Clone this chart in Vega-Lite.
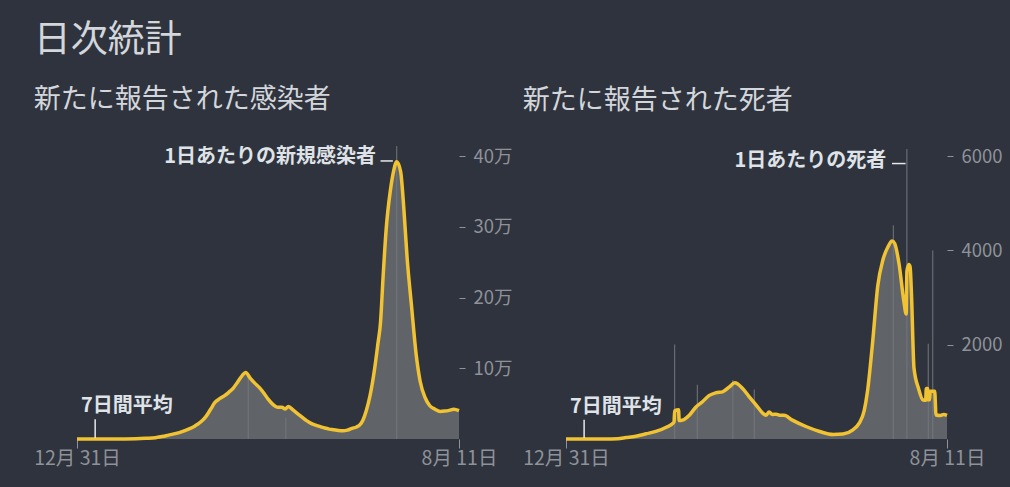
{
  "$schema": "https://vega.github.io/schema/vega-lite/v6.json",
  "background": "#2e333d",
  "padding": {"left": 33, "top": 21, "right": 8, "bottom": 20},
  "title": {
    "text": "日次統計",
    "anchor": "start",
    "frame": "bounds",
    "font": "Noto Sans CJK JP",
    "fontSize": 37,
    "fontWeight": "normal",
    "color": "#d3d6db",
    "offset": 26
  },
  "config": {
    "view": {"stroke": null},
    "font": "Noto Sans CJK JP",
    "axis": {
      "grid": false,
      "domain": false,
      "title": null,
      "labelFont": "Noto Sans CJK JP",
      "labelColor": "#8f9298",
      "tickColor": "#8f9298"
    },
    "axisX": {"tickSize": 9, "labelPadding": 1, "labelFontSize": 19.5, "labelFlush": false, "labelOverlap": false},
    "axisY": {"tickSize": 6, "labelPadding": 8, "labelFontSize": 18.5, "orient": "right"}
  },
  "datasets": {
    "cases": [
      {"date": "2019-12-31", "value": 0},
      {"date": "2020-01-31", "value": 0},
      {"date": "2020-02-29", "value": 50},
      {"date": "2020-03-15", "value": 80},
      {"date": "2020-03-31", "value": 300},
      {"date": "2020-04-15", "value": 900},
      {"date": "2020-04-30", "value": 1800},
      {"date": "2020-05-10", "value": 3500},
      {"date": "2020-05-20", "value": 5500},
      {"date": "2020-06-01", "value": 8000},
      {"date": "2020-06-10", "value": 10500},
      {"date": "2020-06-20", "value": 14000},
      {"date": "2020-06-30", "value": 18500},
      {"date": "2020-07-10", "value": 25000},
      {"date": "2020-07-17", "value": 32000},
      {"date": "2020-07-24", "value": 42000},
      {"date": "2020-07-31", "value": 52000},
      {"date": "2020-08-07", "value": 57000},
      {"date": "2020-08-14", "value": 61000},
      {"date": "2020-08-21", "value": 66000},
      {"date": "2020-08-28", "value": 72000},
      {"date": "2020-09-04", "value": 81000},
      {"date": "2020-09-11", "value": 90000},
      {"date": "2020-09-16", "value": 94000},
      {"date": "2020-09-23", "value": 86000},
      {"date": "2020-09-30", "value": 79000},
      {"date": "2020-10-07", "value": 73000},
      {"date": "2020-10-14", "value": 65000},
      {"date": "2020-10-21", "value": 56000},
      {"date": "2020-10-28", "value": 49000},
      {"date": "2020-11-04", "value": 45000},
      {"date": "2020-11-11", "value": 45000},
      {"date": "2020-11-16", "value": 42500},
      {"date": "2020-11-21", "value": 46000},
      {"date": "2020-11-28", "value": 41000},
      {"date": "2020-12-05", "value": 36000},
      {"date": "2020-12-12", "value": 31000},
      {"date": "2020-12-19", "value": 26000},
      {"date": "2020-12-26", "value": 22000},
      {"date": "2021-01-02", "value": 19500},
      {"date": "2021-01-09", "value": 17500},
      {"date": "2021-01-16", "value": 15500},
      {"date": "2021-01-23", "value": 14000},
      {"date": "2021-01-30", "value": 13000},
      {"date": "2021-02-06", "value": 12000},
      {"date": "2021-02-13", "value": 11500},
      {"date": "2021-02-20", "value": 12500},
      {"date": "2021-02-27", "value": 15000},
      {"date": "2021-03-06", "value": 17000},
      {"date": "2021-03-11", "value": 20000},
      {"date": "2021-03-16", "value": 27000},
      {"date": "2021-03-21", "value": 40000},
      {"date": "2021-03-27", "value": 62000},
      {"date": "2021-04-03", "value": 100000},
      {"date": "2021-04-08", "value": 135000},
      {"date": "2021-04-12", "value": 165000},
      {"date": "2021-04-16", "value": 230000},
      {"date": "2021-04-21", "value": 300000},
      {"date": "2021-04-27", "value": 350000},
      {"date": "2021-05-02", "value": 378000},
      {"date": "2021-05-07", "value": 392000},
      {"date": "2021-05-13", "value": 378000},
      {"date": "2021-05-18", "value": 325000},
      {"date": "2021-05-23", "value": 256000},
      {"date": "2021-05-30", "value": 186000},
      {"date": "2021-06-06", "value": 119000},
      {"date": "2021-06-12", "value": 82000},
      {"date": "2021-06-20", "value": 58000},
      {"date": "2021-06-27", "value": 47000},
      {"date": "2021-07-05", "value": 42000},
      {"date": "2021-07-13", "value": 39000},
      {"date": "2021-07-20", "value": 39500},
      {"date": "2021-07-27", "value": 40500},
      {"date": "2021-08-03", "value": 42000},
      {"date": "2021-08-11", "value": 40000}
    ],
    "caseSpikes": [
      {"date": "2021-05-07", "value": 414000},
      {"date": "2020-09-20", "value": 88000},
      {"date": "2020-11-17", "value": 30000}
    ],
    "deaths": [
      {"date": "2019-12-31", "value": 0},
      {"date": "2020-02-29", "value": 0},
      {"date": "2020-03-20", "value": 5},
      {"date": "2020-04-02", "value": 30},
      {"date": "2020-04-17", "value": 60},
      {"date": "2020-05-03", "value": 110},
      {"date": "2020-05-18", "value": 160},
      {"date": "2020-06-03", "value": 250},
      {"date": "2020-06-14", "value": 340},
      {"date": "2020-06-15", "value": 360},
      {"date": "2020-06-16", "value": 600},
      {"date": "2020-06-22", "value": 620},
      {"date": "2020-06-23", "value": 390},
      {"date": "2020-06-28", "value": 400},
      {"date": "2020-07-09", "value": 510},
      {"date": "2020-07-19", "value": 680},
      {"date": "2020-07-29", "value": 790},
      {"date": "2020-08-08", "value": 920},
      {"date": "2020-08-19", "value": 980},
      {"date": "2020-08-29", "value": 1000},
      {"date": "2020-09-08", "value": 1100},
      {"date": "2020-09-17", "value": 1190},
      {"date": "2020-09-29", "value": 1070},
      {"date": "2020-10-09", "value": 900},
      {"date": "2020-10-20", "value": 720},
      {"date": "2020-10-30", "value": 550},
      {"date": "2020-11-04", "value": 505},
      {"date": "2020-11-09", "value": 570},
      {"date": "2020-11-14", "value": 520},
      {"date": "2020-11-20", "value": 525},
      {"date": "2020-11-25", "value": 505},
      {"date": "2020-12-02", "value": 505},
      {"date": "2020-12-15", "value": 400},
      {"date": "2021-01-05", "value": 265},
      {"date": "2021-01-26", "value": 160},
      {"date": "2021-02-16", "value": 95},
      {"date": "2021-03-03", "value": 105},
      {"date": "2021-03-18", "value": 190},
      {"date": "2021-03-28", "value": 330},
      {"date": "2021-04-05", "value": 600},
      {"date": "2021-04-10", "value": 1000},
      {"date": "2021-04-18", "value": 2050},
      {"date": "2021-04-26", "value": 3250},
      {"date": "2021-05-04", "value": 3800},
      {"date": "2021-05-12", "value": 4080},
      {"date": "2021-05-18", "value": 4200},
      {"date": "2021-05-22", "value": 4150},
      {"date": "2021-05-29", "value": 3700},
      {"date": "2021-06-05", "value": 2950},
      {"date": "2021-06-09", "value": 2650},
      {"date": "2021-06-10", "value": 3550},
      {"date": "2021-06-13", "value": 3700},
      {"date": "2021-06-15", "value": 3650},
      {"date": "2021-06-17", "value": 3100},
      {"date": "2021-06-21", "value": 1500},
      {"date": "2021-06-28", "value": 1070},
      {"date": "2021-07-05", "value": 825},
      {"date": "2021-07-09", "value": 820},
      {"date": "2021-07-10", "value": 1070},
      {"date": "2021-07-12", "value": 1070},
      {"date": "2021-07-13", "value": 830},
      {"date": "2021-07-15", "value": 830},
      {"date": "2021-07-16", "value": 1010},
      {"date": "2021-07-23", "value": 1010},
      {"date": "2021-07-25", "value": 510},
      {"date": "2021-08-01", "value": 500},
      {"date": "2021-08-06", "value": 520},
      {"date": "2021-08-11", "value": 500}
    ],
    "deathSpikes": [
      {"date": "2020-06-16", "value": 2003},
      {"date": "2020-07-21", "value": 1150},
      {"date": "2020-09-14", "value": 1250},
      {"date": "2020-10-17", "value": 1050},
      {"date": "2021-05-20", "value": 4530},
      {"date": "2021-06-10", "value": 6148},
      {"date": "2021-07-13", "value": 2020},
      {"date": "2021-07-20", "value": 3998}
    ]
  },
  "spacing": 9,
  "hconcat": [
    {
      "title": {
        "text": "新たに報告された感染者",
        "anchor": "start",
        "frame": "bounds",
        "fontSize": 27,
        "fontWeight": "normal",
        "color": "#d3d6db",
        "offset": 32
      },
      "width": 382,
      "height": 283,
      "encoding": {
        "x": {
          "field": "date",
          "type": "temporal",
          "scale": {
            "type": "utc",
            "domain": [
              {"year": 2019, "month": 12, "date": 31, "utc": true},
              {"year": 2021, "month": 8, "date": 11, "utc": true}
            ]
          },
          "axis": {
            "values": [
              {"year": 2019, "month": 12, "date": 31, "utc": true},
              {"year": 2021, "month": 8, "date": 11, "utc": true}
            ],
            "labelExpr": "utcFormat(datum.value, '%-m月 %-d日')"
          }
        },
        "y": {
          "field": "value",
          "type": "quantitative",
          "scale": {"domain": [0, 400000]},
          "axis": {
            "values": [100000, 200000, 300000, 400000],
            "labelExpr": "datum.value / 10000 + '万'"
          }
        }
      },
      "layer": [
        {
          "data": {"name": "cases"},
          "mark": {"type": "area", "color": "#606469"}
        },
        {
          "data": {"name": "caseSpikes"},
          "mark": {"type": "rule", "color": "#73777e", "strokeWidth": 1},
          "encoding": {"y2": {"datum": 0}}
        },
        {
          "data": {"name": "cases"},
          "mark": {"type": "line", "color": "#f1c232", "strokeWidth": 3.5, "interpolate": "monotone", "strokeJoin": "round"}
        },
        {
          "data": {
            "values": [
              {"date": "2020-01-28", "date2": "2020-01-28", "value": 28000, "value2": 1500},
              {"date": "2021-04-12", "date2": "2021-05-01", "value": 393000, "value2": 393000}
            ]
          },
          "mark": {"type": "rule", "color": "#e6e8ec", "strokeWidth": 1.5},
          "encoding": {
            "x2": {"field": "date2"},
            "y2": {"field": "value2"}
          }
        },
        {
          "data": {"values": [{"date": "2020-01-06", "value": 46000, "label": "7日間平均"}]},
          "mark": {"type": "text", "align": "left", "baseline": "middle", "fontSize": 20, "fontWeight": "bold", "color": "#dfe2e7"},
          "encoding": {"text": {"field": "label"}}
        },
        {
          "data": {"values": [{"date": "2021-04-05", "value": 398000, "label": "1日あたりの新規感染者"}]},
          "mark": {"type": "text", "align": "right", "baseline": "middle", "fontSize": 20, "fontWeight": "bold", "color": "#dfe2e7"},
          "encoding": {"text": {"field": "label"}}
        }
      ]
    },
    {
      "title": {
        "text": "新たに報告された死者",
        "anchor": "start",
        "frame": "bounds",
        "fontSize": 27,
        "fontWeight": "normal",
        "color": "#d3d6db",
        "offset": 32
      },
      "width": 381,
      "height": 283,
      "encoding": {
        "x": {
          "field": "date",
          "type": "temporal",
          "scale": {
            "type": "utc",
            "domain": [
              {"year": 2019, "month": 12, "date": 31, "utc": true},
              {"year": 2021, "month": 8, "date": 11, "utc": true}
            ]
          },
          "axis": {
            "values": [
              {"year": 2019, "month": 12, "date": 31, "utc": true},
              {"year": 2021, "month": 8, "date": 11, "utc": true}
            ],
            "labelExpr": "utcFormat(datum.value, '%-m月 %-d日')"
          }
        },
        "y": {
          "field": "value",
          "type": "quantitative",
          "scale": {"domain": [0, 6000]},
          "axis": {
            "values": [2000, 4000, 6000],
            "format": "d"
          }
        }
      },
      "layer": [
        {
          "data": {"name": "deaths"},
          "mark": {"type": "area", "color": "#606469"}
        },
        {
          "data": {"name": "deathSpikes"},
          "mark": {"type": "rule", "color": "#73777e", "strokeWidth": 1},
          "encoding": {"y2": {"datum": 0}}
        },
        {
          "data": {"name": "deaths"},
          "mark": {"type": "line", "color": "#f1c232", "strokeWidth": 3.5, "interpolate": "monotone", "strokeJoin": "round"}
        },
        {
          "data": {
            "values": [
              {"date": "2020-01-28", "date2": "2020-01-28", "value": 410, "value2": 20},
              {"date": "2021-05-18", "date2": "2021-06-08", "value": 5840, "value2": 5840}
            ]
          },
          "mark": {"type": "rule", "color": "#e6e8ec", "strokeWidth": 1.5},
          "encoding": {
            "x2": {"field": "date2"},
            "y2": {"field": "value2"}
          }
        },
        {
          "data": {"values": [{"date": "2020-01-06", "value": 684, "label": "7日間平均"}]},
          "mark": {"type": "text", "align": "left", "baseline": "middle", "fontSize": 20, "fontWeight": "bold", "color": "#dfe2e7"},
          "encoding": {"text": {"field": "label"}}
        },
        {
          "data": {"values": [{"date": "2021-05-09", "value": 5900, "label": "1日あたりの死者"}]},
          "mark": {"type": "text", "align": "right", "baseline": "middle", "fontSize": 20, "fontWeight": "bold", "color": "#dfe2e7"},
          "encoding": {"text": {"field": "label"}}
        }
      ]
    }
  ]
}
